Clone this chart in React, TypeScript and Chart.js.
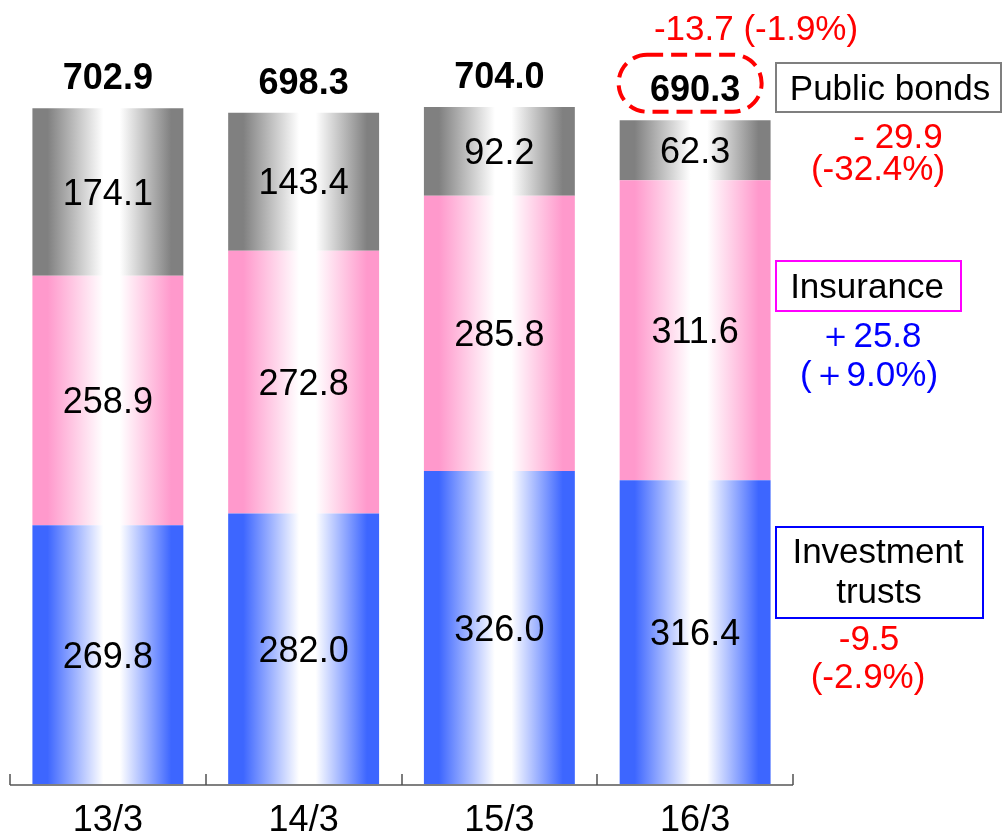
import { useEffect, useRef } from "react";
import { Chart, registerables } from "chart.js";

Chart.register(...registerables);

// ---- data ----
const categories = ["13/3", "14/3", "15/3", "16/3"];
const investmentTrusts = [269.8, 282.0, 326.0, 316.4];
const insurance = [258.9, 272.8, 285.8, 311.6];
const publicBonds = [174.1, 143.4, 92.2, 62.3];
const totals = [702.9, 698.3, 704.0, 690.3];
const seriesNames = ["Investment trusts", "Insurance", "Public bonds"];
const totalChangeText = "-13.7 (-1.9%)";
const bondsChange = ["- 29.9", "(-32.4%)"];
const insuranceChange = ["＋25.8", "(＋9.0%)"];
const trustsChange = ["-9.5", "(-2.9%)"];

const FONT = "'Liberation Sans', Arial, Helvetica, sans-serif";
const BAR_PCT = 0.771;

const makeGradient = (edge: string) => (ctx: any) => {
  const chart = ctx.chart;
  const xs = chart.scales && chart.scales.x;
  if (!chart.chartArea || !xs || ctx.type !== "data") return edge;
  const cx = xs.getPixelForValue(ctx.dataIndex);
  const w = (xs.width / categories.length) * BAR_PCT;
  if (!isFinite(cx) || !isFinite(w)) return edge;
  const g = chart.ctx.createLinearGradient(cx - w / 2, 0, cx + w / 2, 0);
  g.addColorStop(0, edge);
  g.addColorStop(0.1, edge);
  g.addColorStop(0.47, "#ffffff");
  g.addColorStop(0.58, "#ffffff");
  g.addColorStop(0.92, edge);
  g.addColorStop(1, edge);
  return g;
};

const annotationPlugin = {
  id: "annotations",
  afterDatasetsDraw(chart: any) {
    const ctx = chart.ctx as CanvasRenderingContext2D;
    const area = chart.chartArea;
    const xs = chart.scales.x;
    ctx.save();

    // segment values
    ctx.font = `36px ${FONT}`;
    ctx.fillStyle = "#000";
    ctx.textAlign = "center";
    ctx.textBaseline = "alphabetic";
    chart.data.datasets.forEach((ds: any, di: number) => {
      const meta = chart.getDatasetMeta(di);
      meta.data.forEach((el: any, i: number) => {
        const v = ds.data[i] as number;
        const cy = (el.y + el.base) / 2;
        ctx.fillText(v.toFixed(1), el.x, cy + 12.5);
      });
    });

    // totals
    const topMeta = chart.getDatasetMeta(chart.data.datasets.length - 1);
    ctx.font = `bold 36px ${FONT}`;
    topMeta.data.forEach((el: any, i: number) => {
      ctx.fillText(totals[i].toFixed(1), el.x, el.y - 19);
    });

    // dashed pill around last total
    const last: any = topMeta.data[topMeta.data.length - 1];
    {
      const cx = last.x - 5;
      const cy = last.y - 37;
      const w = 143;
      const h = 57;
      ctx.beginPath();
      ctx.strokeStyle = "#ff0000";
      ctx.lineWidth = 4;
      ctx.setLineDash([16, 8]);
      (ctx as any).roundRect(cx - w / 2, cy - h / 2, w, h, h / 2);
      ctx.stroke();
      ctx.setLineDash([]);
    }

    // axis line and tick marks
    const n = categories.length;
    const step = xs.width / n;
    ctx.strokeStyle = "#808080";
    ctx.lineWidth = 2;
    ctx.beginPath();
    ctx.moveTo(area.left, area.bottom);
    ctx.lineTo(area.right, area.bottom);
    ctx.stroke();
    ctx.strokeStyle = "#505050";
    ctx.lineWidth = 1.5;
    for (let i = 0; i <= n; i++) {
      const x = Math.round(xs.left + step * i);
      ctx.beginPath();
      ctx.moveTo(x, area.bottom - 11);
      ctx.lineTo(x, area.bottom);
      ctx.stroke();
    }

    // right-side annotations
    ctx.font = `35px ${FONT}`;
    ctx.fillStyle = "#ff0000";
    ctx.fillText(totalChangeText, 756, 40);

    const box = (x: number, y: number, w: number, h: number, c: string) => {
      ctx.strokeStyle = c;
      ctx.lineWidth = 2;
      ctx.strokeRect(x, y, w, h);
    };
    box(776, 63, 225, 49, "#7f7f7f");
    box(776, 261, 185, 50, "#ff00ff");
    box(776, 527, 207, 91, "#0000ff");

    ctx.fillStyle = "#000";
    ctx.fillText(seriesNames[2], 890, 100);
    ctx.fillText(seriesNames[1], 867, 298);
    const [w1, w2] = seriesNames[0].split(" ");
    ctx.fillText(w1, 878, 563);
    ctx.fillText(w2, 879, 603);

    ctx.fillStyle = "#ff0000";
    ctx.fillText(bondsChange[0], 898, 148);
    ctx.fillText(bondsChange[1], 878, 180);
    ctx.fillText(trustsChange[0], 869, 650);
    ctx.fillText(trustsChange[1], 868, 688);

    ctx.fillStyle = "#0000ff";
    ctx.fillText(insuranceChange[0], 870, 347);
    ctx.fillText(insuranceChange[1], 869, 386);

    ctx.restore();
  },
};

export default function App() {
  const ref = useRef<HTMLCanvasElement | null>(null);
  useEffect(() => {
    if (!ref.current) return;
    const chart = new Chart(ref.current, {
      type: "bar",
      data: {
        labels: categories,
        datasets: [
          { label: seriesNames[0], data: investmentTrusts, backgroundColor: makeGradient("#3d66ff") },
          { label: seriesNames[1], data: insurance, backgroundColor: makeGradient("#ff99cc") },
          { label: seriesNames[2], data: publicBonds, backgroundColor: makeGradient("#808080") },
        ],
      },
      options: {
        responsive: false,
        animation: false,
        layout: { padding: { left: 10, right: 211, top: 14.6, bottom: 0 } },
        datasets: { bar: { categoryPercentage: 1, barPercentage: BAR_PCT, borderWidth: 0 } },
        plugins: { legend: { display: false }, tooltip: { enabled: false } },
        scales: {
          x: {
            stacked: true,
            grid: { display: false, drawTicks: false },
            border: { display: false },
            ticks: {
              color: "#000",
              padding: 18,
              font: { family: FONT, size: 36, lineHeight: 1 },
            },
          },
          y: {
            stacked: true,
            display: false,
            min: 0,
            max: 800,
          },
        },
      },
      plugins: [annotationPlugin],
    });
    return () => chart.destroy();
  }, []);
  return (
    <div style={{ position: "fixed", left: 0, top: 0, width: 1004, height: 833, overflow: "hidden", background: "#fff" }}>
      <canvas ref={ref} width={1004} height={857} style={{ display: "block" }} />
    </div>
  );
}
